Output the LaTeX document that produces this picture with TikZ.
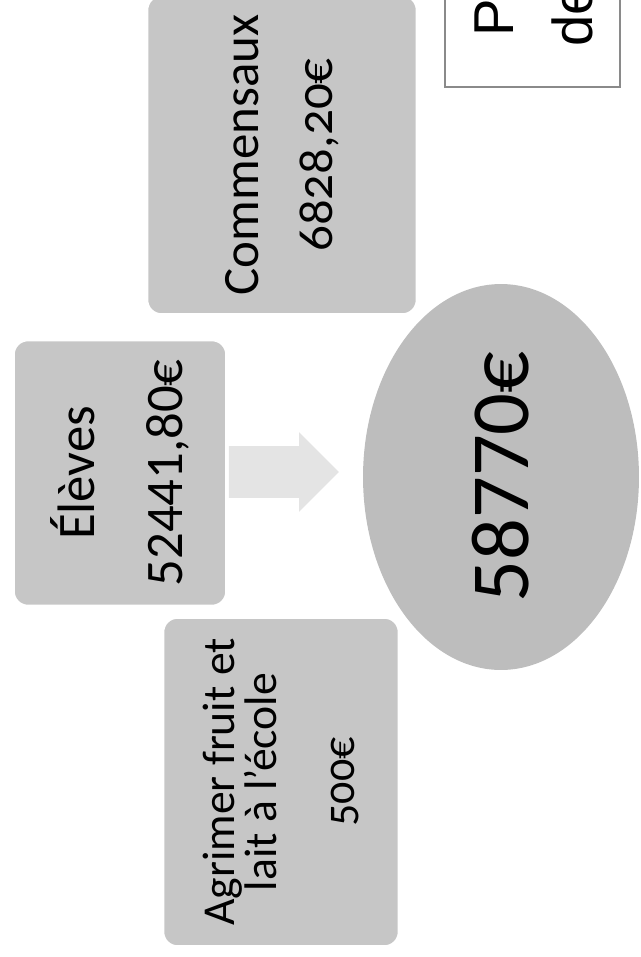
\documentclass[tikz,border=0pt]{standalone}
\usepackage{fontspec}
\setmainfont{Carlito}
\newfontfamily\oldnum[Numbers=OldStyle]{Carlito}
\newfontfamily\titlefont{Liberation Sans}
\usepackage{tikz}
\usetikzlibrary{shapes.geometric,shapes.arrows}
\definecolor{boxgray}{HTML}{C6C6C6}
\definecolor{ovalgray}{HTML}{BDBDBD}
\definecolor{arrowgray}{HTML}{E4E4E4}
\definecolor{framegray}{HTML}{8A8A8A}
\tikzset{
  sumbox/.style={rectangle, rounded corners=0.3cm, fill=boxgray, draw=white,
    line width=2pt, rotate=90, align=center, inner sep=0pt},
}

\begin{document}
\begin{tikzpicture}[x=0.02cm, y=-0.02cm]
    % page frame (pixels of the scan)
    \useasboundingbox (0,0) rectangle (640,957);
    \clip (0,0) rectangle (640,957);

    % Title frame, cut by the page edge
    \draw[framegray, line width=0.8pt, fill=white] (445,-30) rectangle (620,87);
    \node[rotate=90, anchor=base west, inner sep=0pt, font=\titlefont\fontsize{32}{38}\selectfont] (titleA) at (513,37) {Pr};
    \node[rotate=90, anchor=base west, inner sep=0pt, font=\titlefont\fontsize{32}{38}\selectfont] (titleB) at (592,47) {de};

    % Total
    \node[ellipse, rotate=90, fill=ovalgray, minimum width=7.72cm, minimum height=5.52cm,
      inner sep=0pt, font=\fontsize{47}{56}\selectfont] (total) at (501,477) {58770€};

    % Receipts
    \node[sumbox, minimum width=6.4cm, minimum height=5.42cm,
      font=\fontsize{29}{42}\selectfont] (commensaux) at (282,155)
      {Commensaux\\{\oldnum 6828,20€}};
    \node[sumbox, minimum width=5.34cm, minimum height=4.28cm,
      font=\fontsize{30}{50}\selectfont] (eleves) at (120,473)
      {Élèves\\52441,80€};
    \node[sumbox, minimum width=6.6cm, minimum height=4.74cm,
      font=\fontsize{26}{24}\selectfont] (agrimer) at (281,782)
      {\oldnum Agrimer fruit et\\\oldnum lait à l’école\\[0.7cm]\oldnum\fontsize{25}{28}\selectfont 500€};

    % Arrow to the total
    \node[single arrow, fill=arrowgray, minimum height=2.2cm,
      inner xsep=0pt, inner ysep=0.51cm,
      single arrow head extend=0.28cm] (toTotal) at (271,472) {};

\end{tikzpicture}
\end{document}
